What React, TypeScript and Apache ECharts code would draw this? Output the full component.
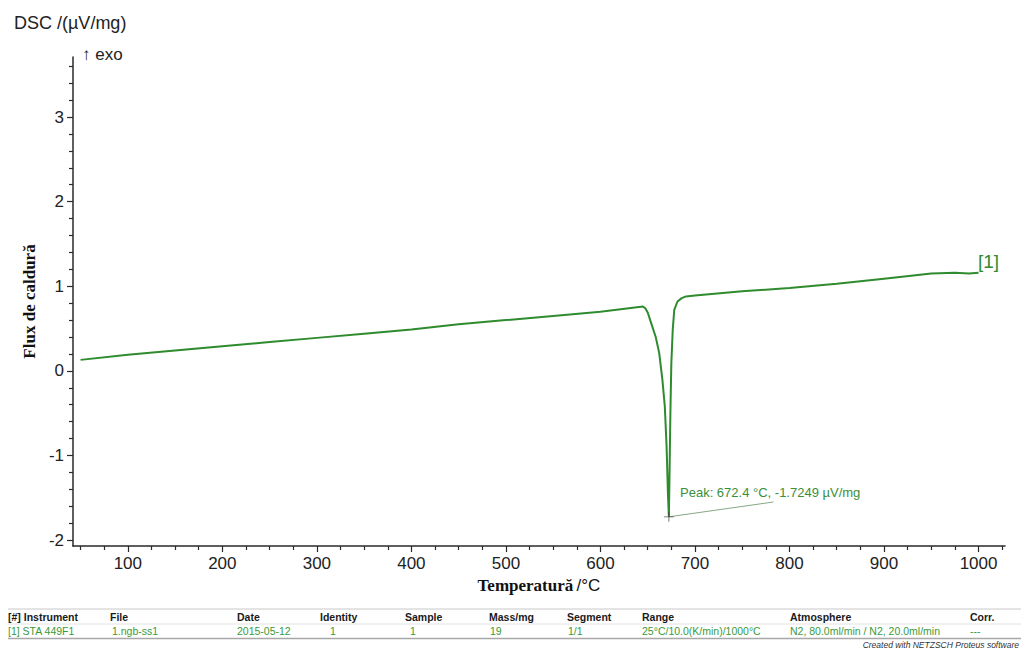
import React, { useEffect, useRef } from "react";
import * as echarts from "echarts";

const temps = [50, 100, 150, 200, 250, 300, 350, 400, 450, 500, 550, 600, 630, 645, 647.5, 650, 653.5, 658.5, 662.2, 665.5, 668.1, 670, 671.4, 672.4, 673, 674, 675, 676.5, 678.1, 681.5, 686, 690.5, 700, 750, 800, 850, 900, 950, 975, 990, 1000];
const dsc = [0.13, 0.19, 0.24, 0.29, 0.34, 0.39, 0.44, 0.49, 0.55, 0.6, 0.65, 0.7, 0.74, 0.76, 0.74, 0.69, 0.57, 0.4, 0.21, -0.1, -0.42, -0.9, -1.45, -1.7249, -1.29, -0.5, 0.09, 0.49, 0.72, 0.82, 0.86, 0.88, 0.89, 0.94, 0.98, 1.03, 1.09, 1.15, 1.16, 1.15, 1.16];

const xTicks = [100, 200, 300, 400, 500, 600, 700, 800, 900, 1000];
const xMinorTicks = [50, 75, 125, 150, 175, 225, 250, 275, 325, 350, 375, 425, 450, 475, 525, 550, 575, 625, 650, 675, 725, 750, 775, 825, 850, 875, 925, 950, 975, 1025];
const yTicks = [-2, -1, 0, 1, 2, 3];
const yMinorTicks = [-1.8, -1.6, -1.4, -1.2, -0.8, -0.6, -0.4, -0.2, 0.2, 0.4, 0.6, 0.8, 1.2, 1.4, 1.6, 1.8, 2.2, 2.4, 2.6, 2.8, 3.2, 3.4, 3.6];

const peak = [672.4, -1.7249];
const leaderEnd = [783, -1.55];
const peakText = "Peak: 672.4 °C, -1.7249 µV/mg";

const tableHeaders = ["[#] Instrument", "File", "Date", "Identity", "Sample", "Mass/mg", "Segment", "Range", "Atmosphere", "Corr."];
const tableValues = ["[1] STA 449F1", "1.ngb-ss1", "2015-05-12", "1", "1", "19", "1/1", "25°C/10.0(K/min)/1000°C", "N2, 80.0ml/min / N2, 20.0ml/min", "---"];
const headerX = [8, 110, 237, 320, 405, 489, 567, 642, 790, 970];
const valueX = [8, 112, 237, 330, 410, 490, 568, 642, 790, 970];

const GREEN = "#2e8b2e";
const AXIS = "#2a2a2a";

export default function App() {
  const ref = useRef<HTMLDivElement>(null);
  useEffect(() => {
    if (!ref.current) return;
    const chart = echarts.init(ref.current, undefined, { renderer: "svg" });
    const tableGraphics: any[] = [];
    tableGraphics.push({ type: "line", shape: { x1: 8, y1: 609, x2: 1021, y2: 609 }, style: { stroke: "#c8c8c8", lineWidth: 1 } });
    tableGraphics.push({ type: "line", shape: { x1: 8, y1: 624, x2: 1021, y2: 624 }, style: { stroke: "#e2e2e2", lineWidth: 1 } });
    tableGraphics.push({ type: "line", shape: { x1: 8, y1: 638.5, x2: 1021, y2: 638.5 }, style: { stroke: "#a8a8a8", lineWidth: 1.5 } });
    tableHeaders.forEach((h, i) => {
      tableGraphics.push({
        type: "text", left: headerX[i], top: 611,
        style: { text: h, font: "bold 10.5px 'Liberation Sans', Arial", fill: "#1a1a1a" },
      });
    });
    tableValues.forEach((v, i) => {
      tableGraphics.push({
        type: "text", left: valueX[i], top: 625.5,
        style: { text: v, font: "10.5px 'Liberation Sans', Arial", fill: "#3a9a3a" },
      });
    });
    tableGraphics.push({
      type: "text", right: 2, top: 640,
      style: { text: "Created with NETZSCH Proteus software", font: "italic 8.5px 'Liberation Sans', Arial", fill: "#333" },
    });

    chart.setOption({
      animation: false,
      backgroundColor: "#fff",
      grid: { left: 73, right: 16, top: 57, bottom: 102, containLabel: false },
      xAxis: [
        {
          type: "value", min: 42, max: 1028,
          axisLine: { show: true, onZero: false, lineStyle: { color: AXIS, width: 1.5 } },
          axisTick: { show: true, customValues: xTicks, length: 6, lineStyle: { color: AXIS, width: 1.2 } },
          axisLabel: { customValues: xTicks, formatter: (v: number) => String(v), fontSize: 17, color: "#222", fontFamily: "'Liberation Sans', Arial", margin: 9 },
          splitLine: { show: false },
          name: "{a|Temperatură} {b|/°C}",
          nameLocation: "middle", nameGap: 27,
          nameTextStyle: {
            rich: {
              a: { fontFamily: "'Liberation Serif', 'Times New Roman'", fontWeight: "bold", fontSize: 17, color: "#111" },
              b: { fontFamily: "'Liberation Sans', Arial", fontSize: 17, color: "#111" },
            },
          },
        },
        {
          type: "value", min: 42, max: 1028, position: "bottom",
          axisLine: { show: false, onZero: false },
          axisTick: { show: true, customValues: xMinorTicks, length: 4, lineStyle: { color: AXIS, width: 1.2 } },
          axisLabel: { show: false },
          splitLine: { show: false },
        },
      ],
      yAxis: [
        {
          type: "value", min: -2.07, max: 3.71,
          axisLine: { show: true, onZero: false, lineStyle: { color: AXIS, width: 1.5 } },
          axisTick: { show: true, customValues: yTicks, length: 6, lineStyle: { color: AXIS, width: 1.2 } },
          axisLabel: { customValues: yTicks, fontSize: 17, color: "#222", fontFamily: "'Liberation Sans', Arial", margin: 9 },
          splitLine: { show: false },
          name: "Flux de caldură",
          nameLocation: "middle", nameGap: 26,
          nameTextStyle: { fontFamily: "'Liberation Serif', 'Times New Roman'", fontWeight: "bold", fontSize: 17, color: "#111" },
        },
        {
          type: "value", min: -2.07, max: 3.71, position: "left",
          axisLine: { show: false, onZero: false },
          axisTick: { show: true, customValues: yMinorTicks, length: 4, lineStyle: { color: AXIS, width: 1.2 } },
          axisLabel: { show: false },
          splitLine: { show: false },
        },
      ],
      series: [
        {
          type: "line",
          data: temps.map((t, i) => [t, dsc[i]]),
          showSymbol: false,
          lineStyle: { color: GREEN, width: 2 },
          z: 3,
        },
        {
          type: "line",
          data: [peak, leaderEnd],
          showSymbol: false,
          lineStyle: { color: "#86a886", width: 1 },
          z: 2,
        },
        {
          type: "scatter",
          data: [peak],
          symbol: "path://M4.6,0h0.8v4.6h4.6v0.8h-4.6v4.6h-0.8v-4.6h-4.6v-0.8h4.6z",
          symbolSize: 10,
          itemStyle: { color: "#333" },
          z: 4,
        },
      ],
      graphic: [
        { type: "text", left: 14, top: 14, style: { text: "DSC /(µV/mg)", font: "18px 'Liberation Sans', Arial", fill: "#222" } },
        { type: "text", left: 82, top: 46, style: { text: "↑ exo", font: "17px 'Liberation Sans', Arial", fill: "#222" } },
        { type: "text", left: 680, top: 486, style: { text: peakText, font: "13px 'Liberation Sans', Arial", fill: "#3a8f3a" } },
        { type: "text", left: 978, top: 252, style: { text: "[1]", font: "19px 'Liberation Sans', Arial", fill: GREEN } },
        ...tableGraphics,
      ],
    });
    return () => chart.dispose();
  }, []);
  return <div ref={ref} style={{ position: "fixed", left: 0, top: 0, width: 1021, height: 648, background: "#fff" }} />;
}
